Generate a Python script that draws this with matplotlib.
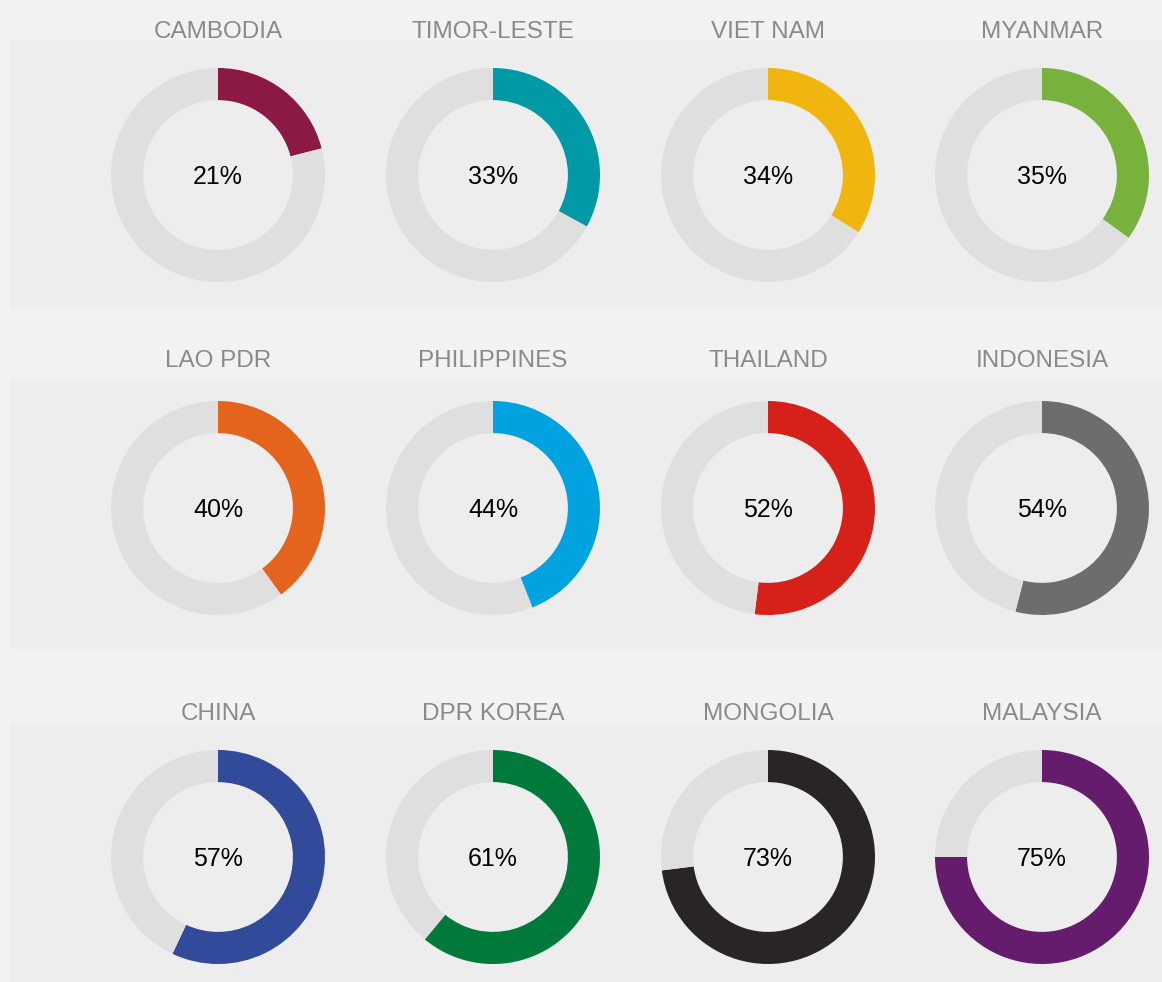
import matplotlib
matplotlib.use("Agg")
import matplotlib.pyplot as plt
from matplotlib.patches import Rectangle

countries = ["CAMBODIA", "TIMOR-LESTE", "VIET NAM", "MYANMAR",
             "LAO PDR", "PHILIPPINES", "THAILAND", "INDONESIA",
             "CHINA", "DPR KOREA", "MONGOLIA", "MALAYSIA"]
values = [21, 33, 34, 35, 40, 44, 52, 54, 57, 61, 73, 75]
colors = ["#8c1844", "#0099a6", "#f0b60f", "#78b13c",
          "#e4641e", "#00a3e0", "#d6201a", "#6d6d6d",
          "#314a9a", "#007a3a", "#292524", "#651c6c"]

W, H = 1162, 982
col_x = [218, 493, 768, 1042]
row_y = [175, 508, 857]
title_y = [31, 360, 713]
bands = [(40, 309), (379, 649), (723, 982)]
radius = 107

plt.rcParams['font.family'] = ['Liberation Sans', 'DejaVu Sans']

fig = plt.figure(figsize=(W / 100, H / 100), dpi=100)
fig.patch.set_facecolor("#f2f2f2")
ax = fig.add_axes([0, 0, 1, 1])

# light bands behind each row
for top, bottom in bands:
    ax.add_patch(Rectangle((10, H - bottom), W - 10, bottom - top,
                           facecolor="#ededed", edgecolor="none", zorder=0))

for i, (name, v, c) in enumerate(zip(countries, values, colors)):
    cx = col_x[i % 4]
    cy = H - row_y[i // 4]
    ax.pie([v, 100 - v], colors=[c, "#dfdfdf"], startangle=90, counterclock=False,
           center=(cx, cy), radius=radius, frame=True,
           wedgeprops=dict(width=radius * 0.30, linewidth=0))
    ax.text(cx, cy - 2, f"{v}%", ha="center", va="center", fontsize=18, color="black")
    ax.text(cx, H - title_y[i // 4] - 1, name, ha="center", va="center",
            fontsize=17.5, color="#8a8a8a")

ax.set_xlim(0, W)
ax.set_ylim(0, H)
ax.set_aspect("equal")
ax.axis("off")
fig.savefig("out.png", dpi=100, facecolor=fig.get_facecolor())
